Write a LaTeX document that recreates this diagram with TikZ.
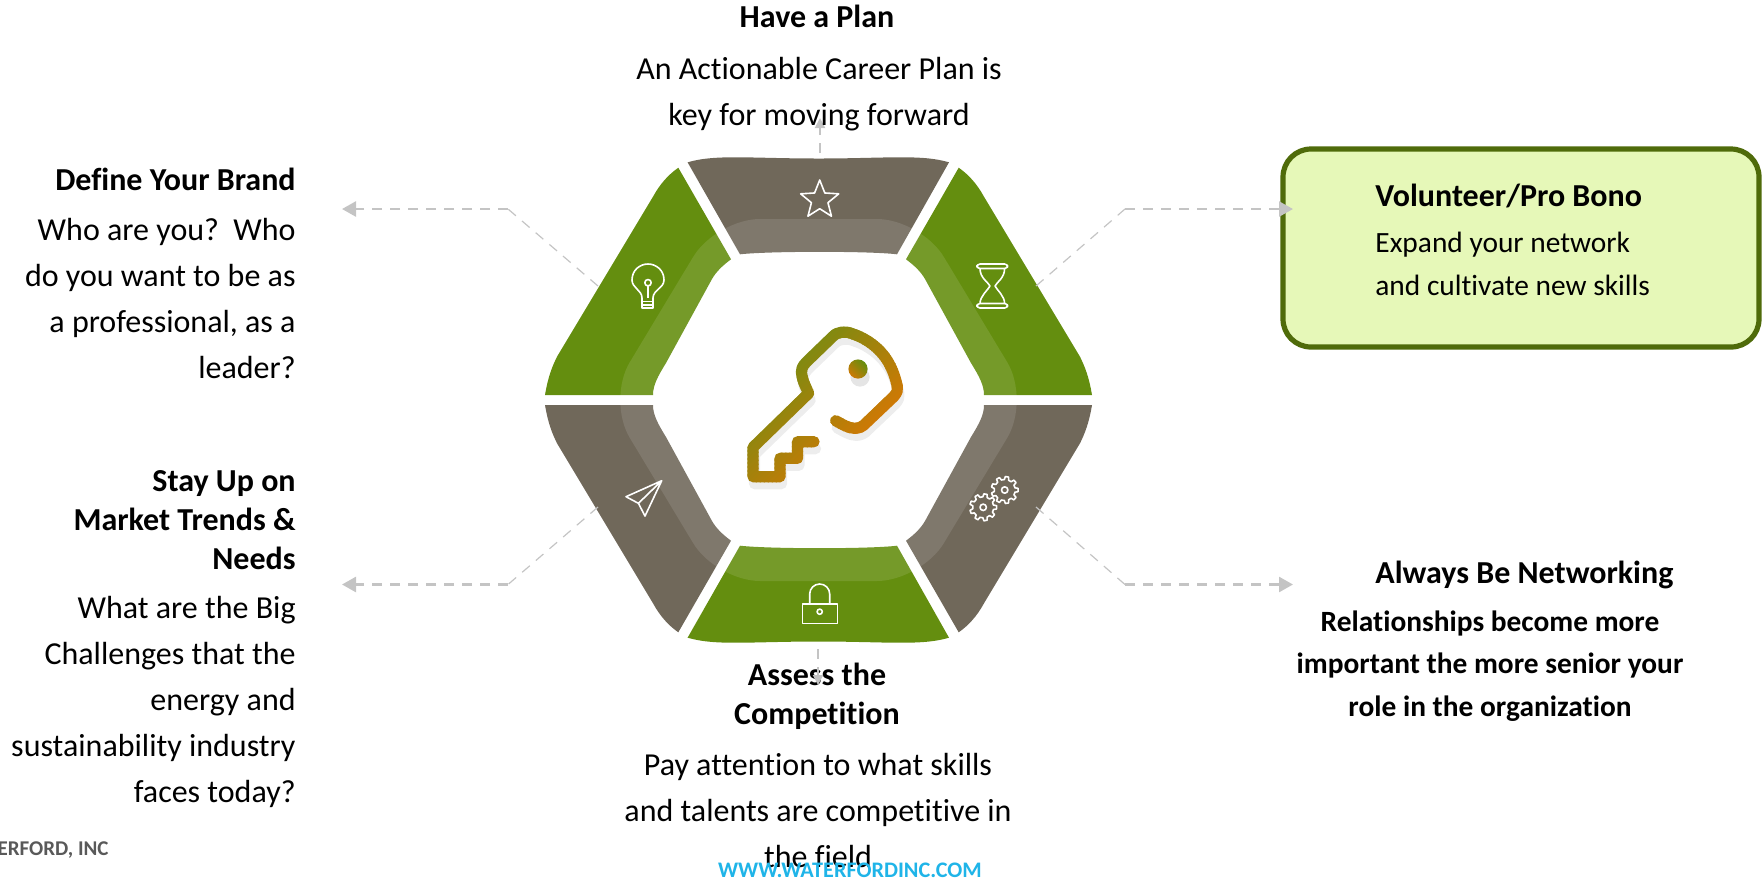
\documentclass[tikz,border=0pt]{standalone}
\usepackage{fontspec}
\setmainfont[Ligatures=NoCommon]{Carlito}
\usetikzlibrary{arrows.meta,shapes.geometric}

\definecolor{seggreen}{HTML}{648E0F}
\definecolor{segbrown}{HTML}{70685A}
\definecolor{linkgrey}{HTML}{C4C4C4}
\definecolor{boxgreen}{HTML}{E6F8B8}
\definecolor{boxline}{HTML}{4F6B0A}
\definecolor{keyolive}{HTML}{7C8B11}
\definecolor{keyorange}{HTML}{CC7905}
\definecolor{webblue}{HTML}{1FB4E8}
\definecolor{footgrey}{HTML}{595959}

\newcommand{\keypath}{(835.6,420.7) .. controls (842,424) and (848,428.3) .. (854.8,428.3)
  .. controls (859,428.3) and (863,426.5) .. (866,423) -- (893.7,396.7)
  .. controls (897,393) and (898,390) .. (897.4,386.7)
  .. controls (895,376) and (892,368) .. (887,360)
  .. controls (880,349) and (868,339) .. (853,334)
  .. controls (846,331) and (838,331) .. (832.6,336.7) -- (806.7,361.7)
  .. controls (802,366) and (800.5,371) .. (802,376)
  .. controls (803,382) and (806,387) .. (808.6,393.3)
  -- (753,447.3) -- (753,476.7) -- (780,476.7) -- (780,458.3) -- (797.5,458.3) -- (797.5,441.7) -- (814,441.7)}

\tikzset{
  linkthin/.style={draw=linkgrey,line width=0.6pt,dash pattern=on 5pt off 4pt},
  link/.style={draw=linkgrey,line width=1.3pt,dash pattern=on 5pt off 4pt},
  linkend/.style={link,-{Triangle[length=7pt,width=7.5pt,color=linkgrey]}},
  linkshort/.style={draw=linkgrey,line width=1pt,dash pattern=on 5pt off 4pt,-{Triangle[length=5pt,width=5pt,color=linkgrey]}},
  icon/.style={draw=white,line width=0.8pt,line join=round},
  head/.style={font=\fontsize{16}{19.5}\selectfont\bfseries,inner sep=0pt},
  body/.style={font=\fontsize{16}{23}\selectfont,inner sep=0pt},
  small/.style={font=\fontsize{14.7}{21.3}\selectfont,inner sep=0pt},
  keyline/.style={line width=5.6pt,line cap=round,line join=round},
}

\begin{document}
\begin{tikzpicture}[x=0.5pt,y=-0.5pt]
\useasboundingbox (0,0) rectangle (1762,880);

% the six sides
\fill[segbrown] (687.6,162.3) .. controls (716,154) and (750,158.5) .. (819,158.5) .. controls (885,158.5) and (921,154) .. (949,162.3) -- (897,254.3) .. controls (870,251) and (770,251) .. (740,254.3) -- cycle;
\fill[seggreen] (687.6,637.7) .. controls (716,646) and (750,641.5) .. (819,641.5) .. controls (885,641.5) and (921,646) .. (949,637.7) -- (897,545.7) .. controls (870,549) and (770,549) .. (740,545.7) -- cycle;
\fill[seggreen] (545,395) .. controls (548,377) and (552,367) .. (557,356.7) -- (653,196.7) .. controls (660,184) and (668,175) .. (678.3,167.7) -- (731,259.3) .. controls (722,266) and (716,272) .. (712,279) -- (666,363) .. controls (658,376) and (653,385) .. (653,395) -- cycle;
\fill[seggreen] (1092,395) .. controls (1089,377) and (1085,367) .. (1080,356.7) -- (984,196.7) .. controls (977,184) and (969,175) .. (958.7,167.7) -- (906,259.3) .. controls (915,266) and (921,272) .. (925,279) -- (971,363) .. controls (979,376) and (984,385) .. (984,395) -- cycle;
\fill[segbrown] (545,405) .. controls (548,423) and (552,433) .. (557,443.3) -- (653,603.3) .. controls (660,616) and (668,625) .. (678.3,632.3) -- (731,540.7) .. controls (722,534) and (716,528) .. (712,521) -- (666,437) .. controls (658,424) and (653,415) .. (653,405) -- cycle;
\fill[segbrown] (1092,405) .. controls (1089,423) and (1085,433) .. (1080,443.3) -- (984,603.3) .. controls (977,616) and (969,625) .. (958.7,632.3) -- (906,540.7) .. controls (915,534) and (921,528) .. (925,521) -- (971,437) .. controls (979,424) and (984,415) .. (984,405) -- cycle;

% pale band round the middle
\fill[white,opacity=0.11,rounded corners=22pt] (607,400) -- (716,219) -- (921,219) -- (1030,400) -- (921,581) -- (716,581) -- cycle;

% icons
\node[star,star points=5,star point ratio=2.3,icon,minimum size=20pt,inner sep=0pt] (iconstar) at (819.7,200) {};
\draw[icon] (642,298) .. controls (642,290) and (632,288) .. (632,280) .. controls (632,270) and (640,264) .. (648,264) .. controls (656,264) and (664,270) .. (664,280) .. controls (664,288) and (653,290) .. (653,298) -- (653,308) -- (642,308) -- cycle;
\draw[icon] (642,301.5) -- (653,301.5) (642,305) -- (653,305) (648,286) -- (648,298);
\draw[icon] (648,282.7) circle (3.2);
\draw[icon,rounded corners=1.5pt] (977,264) rectangle (1007.6,268.5) (977,303.5) rectangle (1007.6,308);
\draw[icon] (980,268.5) .. controls (980,278) and (988,282) .. (990,286) .. controls (988,290) and (980,296) .. (980,303.5) (1004.6,268.5) .. controls (1004.6,278) and (997,282) .. (995,286) .. controls (997,290) and (1004.6,296) .. (1004.6,303.5);
\draw[icon] (661.7,480.7) -- (626,496.7) -- (638.4,503.3) -- (645,516) -- cycle (638.4,503.3) -- (661.7,480.7);
\draw[icon] (802.3,604) rectangle (837.4,623.3);
\draw[icon] (809.7,604) -- (809.7,594) arc (180:360:10) -- (829.7,604);
\draw[icon] (819.7,611.7) circle (2.6);
\draw[icon] (1004.7,490) circle (3.2) (983.2,507.3) circle (3.2);
\draw[icon,shift={(1004.7,490)}] (-12:10.5) \foreach \a in {0,40,...,320} { -- (\a-12:10.5) -- (\a-7:13.5) -- (\a+7:13.5) -- (\a+12:10.5) } -- cycle;
\draw[icon,shift={(983.2,507.3)}] (-12:10.5) \foreach \a in {0,40,...,320} { -- (\a-12:10.5) -- (\a-7:13.5) -- (\a+7:13.5) -- (\a+12:10.5) } -- cycle;

% key, with its soft shadow
\draw[keyline,draw=black!7,shift={(1.5,7)}] \keypath;
\fill[black!10] (860,377) circle (9.6);
\foreach \i in {0,...,36} {
  \pgfmathsetmacro{\keymix}{100-100*\i/36}
  \pgfmathsetmacro{\bandt}{1150+4*\i}
  \begin{scope}
    \clip (700,\bandt-700) -- (950,\bandt-950) -- (950,\bandt-945) -- (700,\bandt-695) -- cycle;
    \draw[keyline,draw=keyorange!\keymix!keyolive,draw=keyolive!\keymix!keyorange] \keypath;
  \end{scope}
}
\shade[left color=seggreen,right color=keyorange,shading angle=-45] (858,369) circle (9.6);

% connectors
\coordinate (brandbend) at (508,209);
\coordinate (brandtip) at (342,209);
\coordinate (brandfoot) at (598,286);
\coordinate (trendbend) at (508,584.5);
\coordinate (trendtip) at (342,584.5);
\coordinate (trendfoot) at (598,507);
\coordinate (probend) at (1125,209);
\coordinate (protip) at (1293,209);
\coordinate (profoot) at (1036,286);
\coordinate (netbend) at (1125,584.5);
\coordinate (nettip) at (1293,584.5);
\coordinate (netfoot) at (1036,507);
\coordinate (plantop) at (820,118);
\coordinate (planfoot) at (820,153);
\coordinate (assesstop) at (818,649);
\coordinate (assesstip) at (818,685);

\draw[linkthin] (brandfoot) -- (brandbend);
\draw[linkend] (brandbend) -- (brandtip);
\draw[linkthin] (trendfoot) -- (trendbend);
\draw[linkend] (trendbend) -- (trendtip);
\node[draw=boxline,line width=2.6pt,fill=boxgreen,rounded corners=14pt,minimum width=238pt,minimum height=99pt,inner sep=0pt] (probox) at (1521,248) {};
\draw[linkthin] (profoot) -- (probend);
\draw[linkend] (probend) -- (protip);
\draw[linkthin] (netfoot) -- (netbend);
\draw[linkend] (netbend) -- (nettip);
\draw[linkshort] (planfoot) -- (plantop);

% labels
\node[head,anchor=base] (plantitle) at (817,27) {Have a Plan};
\node[body,anchor=north,align=center] (plantext) at (819,57) {An Actionable Career Plan is\\key for moving forward};
\node[head,anchor=base east] (brandtitle) at (296,190) {Define Your Brand};
\node[body,anchor=north east,align=right] (brandtext) at (296,218) {Who are you?\ \ Who\\do you want to be as\\a professional, as a\\leader?};
\node[head,anchor=north east,align=right] (trendtitle) at (296,470) {Stay Up on\\Market Trends \&\\Needs};
\node[body,anchor=north east,align=right] (trendtext) at (296,596) {What are the Big\\Challenges that the\\energy and\\sustainability industry\\faces today?};
\node[head,anchor=north,align=center] (assesstitle) at (817,663) {Assess the\\Competition};
\node[body,anchor=north,align=center] (assesstext) at (818,753) {Pay attention to what skills\\and talents are competitive in\\the field};
\node[head,anchor=base west] (protitle) at (1375,206) {Volunteer/Pro Bono};
\node[small,anchor=north west,align=left] (protext) at (1375,232) {Expand your network\\and cultivate new skills};
\node[head,anchor=base west] (nettitle) at (1375,583) {Always Be Networking};
\node[small,anchor=north,align=center,font=\fontsize{14.7}{21.3}\selectfont\bfseries] (nettext) at (1490,610) {Relationships become more\\important the more senior your\\role in the organization};
\node[inner sep=0pt,anchor=base east,text=footgrey,font=\fontsize{10.5}{12}\selectfont\bfseries] (footleft) at (109,855) {ERFORD, INC};
\node[inner sep=0pt,anchor=base,text=webblue,font=\fontsize{11.1}{12}\selectfont\bfseries] (footweb) at (850,877) {WWW.WATERFORDINC.COM};
\draw[linkshort] (assesstop) -- (assesstip);
\end{tikzpicture}
\end{document}
